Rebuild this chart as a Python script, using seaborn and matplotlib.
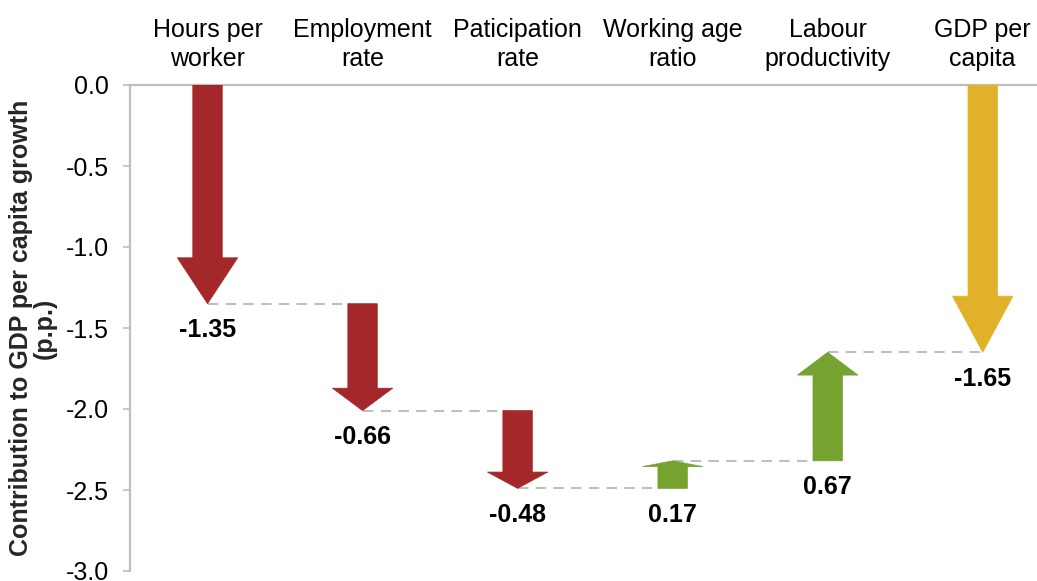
#!/usr/bin/env python3
import matplotlib
matplotlib.use("Agg")
import matplotlib.pyplot as plt
import numpy as np
import pandas as pd
import seaborn as sns

# data
categories = ["Hours per\nworker", "Employment\nrate", "Paticipation\nrate",
              "Working age\nratio", "Labour\nproductivity", "GDP per\ncapita"]
contributions = [-1.35, -0.66, -0.48, 0.17, 0.67]
total = -1.65
y_ticks = [0.0, -0.5, -1.0, -1.5, -2.0, -2.5, -3.0]

RED = "#A4282A"
GREEN = "#76A22F"
GOLD = "#E1B12A"
GRID = "#BFBFBF"


def main() -> None:
    sns.set_theme(style="white")
    plt.rcParams["font.family"] = ["Liberation Sans", "DejaVu Sans"]

    fig = plt.figure(figsize=(10.37, 5.81), dpi=100)
    ax = fig.add_axes([130 / 1037, 1 - 571 / 581, 907 / 1037, 486 / 581])

    starts = np.concatenate([[0.0], np.cumsum(contributions)[:-1]])
    ends = np.cumsum(contributions)
    xs = np.arange(len(categories))

    values = list(contributions) + [total]
    starts = list(starts) + [0.0]
    ends = list(ends) + [total]

    shaft_w = 0.19
    head_w = 0.39

    for i, (v, s, e) in enumerate(zip(values, starts, ends)):
        if i == len(values) - 1:
            color = GOLD
        else:
            color = RED if v < 0 else GREEN
        ax.arrow(xs[i], s, 0, v, width=shaft_w, head_width=head_w,
                 head_length=0.21 * abs(v), length_includes_head=True,
                 facecolor=color, edgecolor=color, linewidth=0.5, zorder=3)
        label_y = e if v < 0 else s
        ax.annotate(f"{v:.2f}", (xs[i], label_y), xytext=(0, -19),
                    textcoords="offset points", ha="center", va="center",
                    fontsize=18, fontweight="bold", color="black")

    # dashed connectors between arrows
    rows = []
    for i in range(len(values) - 1):
        x_end = xs[i + 1] if i + 1 == len(values) - 1 else xs[i + 1] - shaft_w / 2
        rows.append({"seg": i, "x": xs[i], "y": ends[i]})
        rows.append({"seg": i, "x": x_end, "y": ends[i]})
    conn = pd.DataFrame(rows)
    sns.lineplot(data=conn, x="x", y="y", units="seg", estimator=None,
                 color=GRID, linewidth=1.5, linestyle=(0, (5, 3.5)),
                 ax=ax, zorder=1, legend=False)

    ax.set_xlim(-0.5, 5.35)
    ax.set_ylim(-3.0, 0.0)
    ax.set_yticks(y_ticks)
    ax.set_yticklabels([f"{t:.1f}" for t in y_ticks])
    ax.set_xticks(xs)
    ax.set_xticklabels(categories, linespacing=1.25)
    ax.xaxis.tick_top()
    ax.tick_params(axis="x", length=0, pad=10, labelsize=18, colors="black")
    ax.tick_params(axis="y", direction="out", length=5, width=1.2, color=GRID,
                   pad=10, labelsize=18, labelcolor="black", left=True)
    ax.set_xlabel("")
    ax.set_ylabel("")

    for side in ["right", "bottom"]:
        ax.spines[side].set_visible(False)
    for side in ["left", "top"]:
        ax.spines[side].set_color(GRID)
        ax.spines[side].set_linewidth(1.6)

    fig.text(33 / 1037, 1 - 328 / 581,
             "Contribution to GDP per capita growth\n(p.p.)",
             rotation=90, ha="center", va="center", fontsize=18,
             fontweight="bold", linespacing=1.0)

    fig.savefig("out.png", dpi=100, facecolor="white")
    plt.close(fig)


if __name__ == "__main__":
    main()
